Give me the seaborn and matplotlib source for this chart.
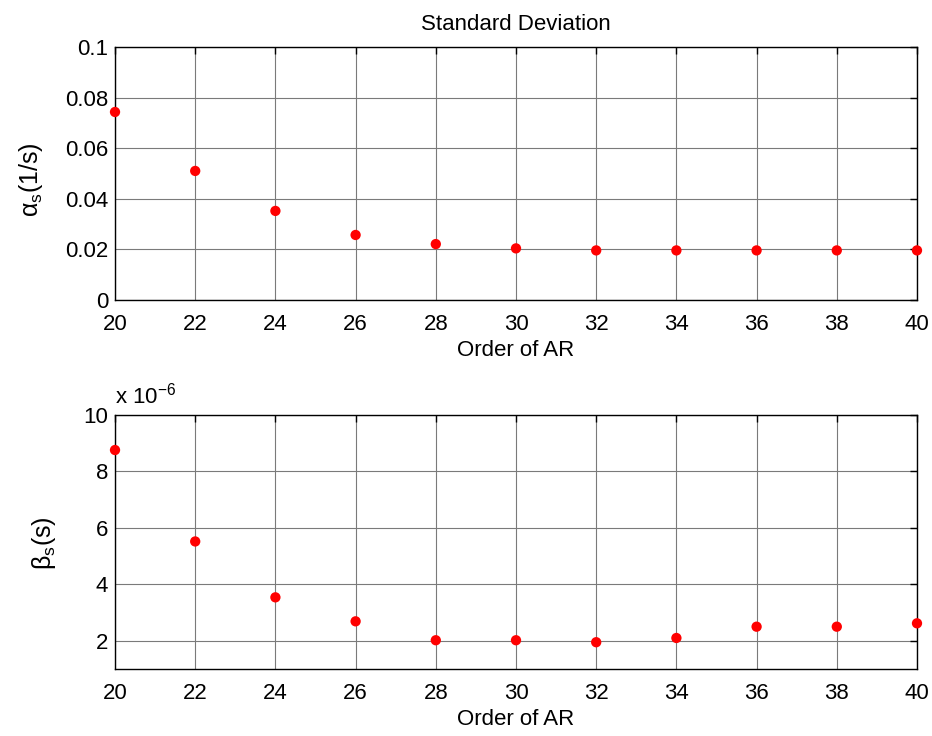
import matplotlib
matplotlib.use("Agg")
import matplotlib.pyplot as plt
import seaborn as sns
import pandas as pd

order = [20, 22, 24, 26, 28, 30, 32, 34, 36, 38, 40]
alpha_s = [0.0743, 0.0510, 0.0352, 0.0257, 0.0221, 0.0204, 0.0196, 0.0196, 0.0196, 0.0196, 0.0196]
beta_s_e6 = [8.76, 5.52, 3.54, 2.69, 2.02, 2.02, 1.95, 2.10, 2.50, 2.50, 2.62]  # x 1e-6
x_ticks = [20, 22, 24, 26, 28, 30, 32, 34, 36, 38, 40]
y1_ticks = [0, 0.02, 0.04, 0.06, 0.08, 0.1]
y1_labels = ["0", "0.02", "0.04", "0.06", "0.08", "0.1"]
y2_ticks = [2, 4, 6, 8, 10]

sns.set_style("white")
plt.rcParams['font.family'] = ['Liberation Sans', 'DejaVu Sans']
plt.rcParams['mathtext.fontset'] = 'custom'
plt.rcParams['mathtext.rm'] = 'Liberation Sans'
plt.rcParams['mathtext.it'] = 'Liberation Sans:italic'
plt.rcParams['text.color'] = 'black'
plt.rcParams['axes.labelcolor'] = 'black'
plt.rcParams['xtick.color'] = 'black'
plt.rcParams['ytick.color'] = 'black'

fig = plt.figure(figsize=(9.32, 7.36), dpi=100)
ax1 = fig.add_axes([0.1234, 0.5924, 0.8605, 0.3438])
ax2 = fig.add_axes([0.1234, 0.0910, 0.8605, 0.3451])

df1 = pd.DataFrame({"order": order, "val": alpha_s})
df2 = pd.DataFrame({"order": order, "val": beta_s_e6})

fs = 16
for ax, df in ((ax1, df1), (ax2, df2)):
    sns.scatterplot(data=df, x="order", y="val", ax=ax, color="#ff0000",
                    s=55, edgecolor="none", linewidth=0, zorder=5, clip_on=False)
    ax.set_xlim(20, 40)
    ax.set_xticks(x_ticks)
    ax.grid(True, color="#7a7a7a", linewidth=0.8)
    ax.set_axisbelow(True)
    ax.tick_params(direction="in", length=5, width=1, top=True, right=True,
                   labelsize=fs, color="black", labelcolor="black")
    ax.tick_params(axis="x", pad=10)
    ax.tick_params(axis="y", pad=5)
    for sp in ax.spines.values():
        sp.set_visible(True)
        sp.set_color("black")
        sp.set_linewidth(1)
    ax.set_xlabel("Order of AR", fontsize=fs, labelpad=4)

ax1.set_ylim(0, 0.1)
ax1.set_yticks(y1_ticks)
ax1.set_yticklabels(y1_labels)
ax1.set_ylabel("α$_{\\mathrm{s}}$(1/s)", fontsize=18)
ax1.yaxis.set_label_coords(-0.087, 0.474)
ax1.set_title("Standard Deviation", fontsize=fs, pad=12)

ax2.set_ylim(1, 10)
ax2.set_yticks(y2_ticks)
ax2.set_ylabel("β$_{\\mathrm{s}}$(s)", fontsize=18)
ax2.yaxis.set_label_coords(-0.071, 0.496)
ax2.text(0.0, 1.025, r"x 10$^{\mathrm{-6}}$", transform=ax2.transAxes, fontsize=fs,
         ha="left", va="bottom")

fig.savefig("out.png", dpi=100, facecolor="white")
